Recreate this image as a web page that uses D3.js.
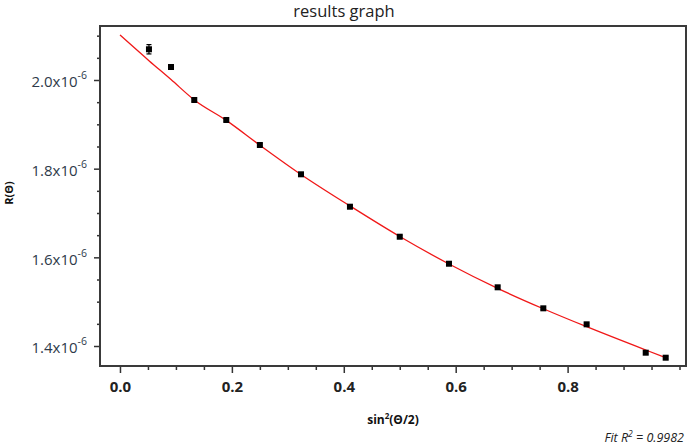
<!DOCTYPE html>
<html><head><meta charset="utf-8">
<script src="https://cdn.jsdelivr.net/npm/d3@7"></script>
<style>
body{margin:0;background:#fff;}
svg{display:block;}
</style></head>
<body>
<svg id="c" width="691" height="445"></svg>
<script>
// data (R in units of 1e-6)
const xVals = [0.0518,0.0912,0.1328,0.190,0.250,0.3235,0.411,0.500,0.588,0.675,0.7566,0.834,0.9396,0.9753];
const yVals = [2.0693,2.0293,1.9549,1.9098,1.8534,1.7873,1.7142,1.6465,1.5856,1.5324,1.4850,1.4489,1.3849,1.3736];
const yErr  = [0.0105,0.003,0.003,0.003,0.003,0.003,0.003,0.003,0.003,0.003,0.003,0.003,0.003,0.003];
const fitX = [0,0.0518,0.0912,0.1328,0.190,0.250,0.3235,0.411,0.500,0.588,0.675,0.7566,0.834,0.9396,0.9753];
const fitY = [2.1015,2.0436,2.001,1.955,1.909,1.853,1.787,1.716,1.647,1.585,1.530,1.484,1.4435,1.391,1.3736];
const xTicks = [0.0,0.2,0.4,0.6,0.8];
const xMinor = [0.05,0.1,0.15,0.25,0.3,0.35,0.45,0.5,0.55,0.65,0.7,0.75,0.85,0.9,0.95,1.0];
const yTicks = [1.4,1.6,1.8,2.0];
const yMinor = [1.45,1.5,1.55,1.65,1.7,1.75,1.85,1.9,1.95,2.05,2.1];
const title = "results graph";
const fitText = "0.9982";

const svg = d3.select("#c");
const L=100,R=686,T=26,B=366;
const x = d3.scaleLinear().domain([-0.0357,1.0116]).range([L,R]);
const y = d3.scaleLinear().domain([1.3549,2.1218]).range([B,T]);

const tickCol="#333", labCol="#2e3a4a";

// x axis major
const gx = svg.append("g").attr("transform",`translate(0,${B})`)
  .call(d3.axisBottom(x).tickValues(xTicks).tickSize(7).tickPadding(8).tickFormat(d3.format(".1f")));
gx.select(".domain").remove();
gx.selectAll("line").attr("stroke",tickCol).attr("stroke-width",1.5);
gx.selectAll("text").attr("font-family","'Open Sans',sans-serif").attr("font-weight","bold")
  .attr("font-size","15px").attr("fill","#222");
const gxm = svg.append("g").attr("transform",`translate(0,${B})`)
  .call(d3.axisBottom(x).tickValues(xMinor).tickSize(4).tickFormat(""));
gxm.select(".domain").remove();
gxm.selectAll("line").attr("stroke",tickCol).attr("stroke-width",1.5);

// y axis major
const gy = svg.append("g").attr("transform",`translate(${L},0)`)
  .call(d3.axisLeft(y).tickValues(yTicks).tickSize(6).tickFormat(""));
gy.select(".domain").remove();
gy.selectAll(".tick line").attr("stroke",tickCol).attr("stroke-width",1.5);
gy.selectAll(".tick").append("text")
  .attr("x",-13).attr("dy","0.45em").attr("text-anchor","end")
  .attr("font-family","'Open Sans',sans-serif").attr("font-size","15px").attr("fill",labCol)
  .each(function(d){
    const t=d3.select(this);
    t.append("tspan").text(d3.format(".1f")(d)+"x10");
    t.append("tspan").attr("dy","-8").attr("font-size","10.5px").text("-6");
  });
const gym = svg.append("g").attr("transform",`translate(${L},0)`)
  .call(d3.axisLeft(y).tickValues(yMinor).tickSize(3).tickFormat(""));
gym.select(".domain").remove();
gym.selectAll("line").attr("stroke",tickCol).attr("stroke-width",1.5);

// frame
svg.append("rect").attr("x",L).attr("y",T).attr("width",R-L).attr("height",B-T)
  .attr("fill","none").attr("stroke","#3a3a3a").attr("stroke-width",2);

// fit line
const fitData = fitX.map((v,i)=>[v,fitY[i]]);
svg.append("path").datum(fitData)
  .attr("d",d3.line().x(d=>x(d[0])).y(d=>y(d[1])).curve(d3.curveMonotoneX))
  .attr("fill","none").attr("stroke","#f01818").attr("stroke-width",1.3);

// error bars + points
const pts = xVals.map((v,i)=>({x:v,y:yVals[i],e:yErr[i]}));
const eb = svg.append("g").attr("stroke","#000").attr("stroke-width",1.2);
pts.forEach(p=>{
  eb.append("line").attr("x1",x(p.x)).attr("x2",x(p.x)).attr("y1",y(p.y+p.e)).attr("y2",y(p.y-p.e));
  eb.append("line").attr("x1",x(p.x)-2.5).attr("x2",x(p.x)+2.5).attr("y1",y(p.y+p.e)).attr("y2",y(p.y+p.e));
  eb.append("line").attr("x1",x(p.x)-2.5).attr("x2",x(p.x)+2.5).attr("y1",y(p.y-p.e)).attr("y2",y(p.y-p.e));
});
svg.append("g").selectAll("rect").data(pts).join("rect")
  .attr("x",d=>x(d.x)-3).attr("y",d=>y(d.y)-3).attr("width",6).attr("height",6).attr("fill","#000");

// title
svg.append("text").attr("x",344).attr("y",17).attr("text-anchor","middle")
  .attr("font-family","'Open Sans',sans-serif").attr("font-size","16.5px").attr("fill","#222").text(title);

// axis labels
const xl = svg.append("text").attr("x",(L+R)/2).attr("y",424).attr("text-anchor","middle")
  .attr("font-family","'Open Sans',sans-serif").attr("font-weight","bold").attr("font-size","12px").attr("fill","#111");
xl.append("tspan").text("sin");
xl.append("tspan").attr("dy","-5").attr("font-size","8px").text("2");
xl.append("tspan").attr("dy","5").text("(Θ/2)");

svg.append("text").attr("transform","translate(13,193) rotate(-90)").attr("text-anchor","middle")
  .attr("font-family","'Open Sans',sans-serif").attr("font-weight","bold").attr("font-size","11px").attr("fill","#111")
  .text("R(Θ)");

const ft = svg.append("text").attr("x",684).attr("y",442).attr("text-anchor","end")
  .attr("font-family","'Open Sans',sans-serif").attr("font-style","italic").attr("font-size","12.5px").attr("fill","#222");
ft.append("tspan").text("Fit R");
ft.append("tspan").attr("dy","-5").attr("font-size","8.5px").text("2");
ft.append("tspan").attr("dy","5").text(" = " + fitText);
</script>
</body></html>
